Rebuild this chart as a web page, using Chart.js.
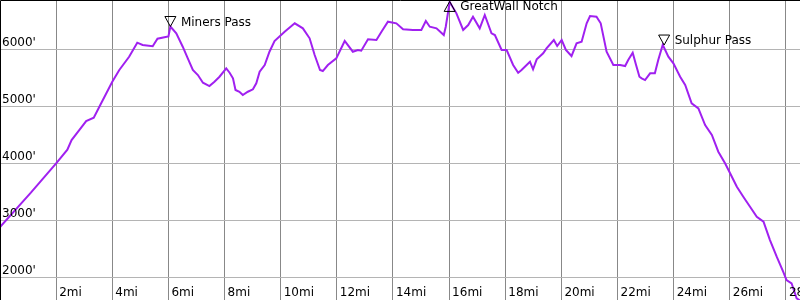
<!DOCTYPE html>
<html lang="en">
<head>
  <meta charset="UTF-8">
  <title>Elevation profile</title>
  <script src="https://cdn.jsdelivr.net/npm/chart.js"></script>
  <style>
    html, body { margin: 0; padding: 0; background: #fff; }
    #wrap { width: 800px; height: 300px; position: relative; }
  </style>
</head>
<body>
  <div id="wrap"><canvas id="profile"></canvas></div>
  <script>
    // distance along the trail (miles) and elevation (feet)
    const miles = [0, 1.1, 2.0, 2.4, 2.55, 2.83, 3.07, 3.34, 3.54, 4.0, 4.25, 4.6, 4.89, 5.08, 5.44, 5.61, 5.9, 6.0,
      6.07, 6.28, 6.51, 6.69, 6.87, 7.05, 7.23, 7.46, 7.64, 7.82, 8.06, 8.18, 8.3, 8.39, 8.53, 8.65, 8.83, 9.01,
      9.13, 9.25, 9.43, 9.6, 9.78, 10.14, 10.5, 10.79, 11.03, 11.21, 11.4, 11.5, 11.68, 11.98, 12.28, 12.57, 12.75,
      12.87, 13.11, 13.41, 13.59, 13.82, 14.12, 14.36, 14.71, 15.01, 15.17, 15.31, 15.55, 15.81, 15.88, 16.02,
      16.26, 16.5, 16.68, 16.85, 17.09, 17.27, 17.51, 17.63, 17.87, 18.05, 18.28, 18.46, 18.58, 18.88, 18.99,
      19.12, 19.35, 19.47, 19.73, 19.85, 20.01, 20.16, 20.36, 20.54, 20.72, 20.9, 21.02, 21.25, 21.4, 21.61,
      21.85, 22.09, 22.27, 22.38, 22.54, 22.66, 22.78, 22.86, 22.98, 23.16, 23.33, 23.45, 23.61, 23.81, 23.99,
      24.23, 24.41, 24.64, 24.88, 25.12, 25.36, 25.59, 25.83, 26.01, 26.25, 26.48, 26.72, 26.96, 27.2, 27.43,
      27.67, 27.9, 28.02, 28.2, 28.38, 28.52];
    const elevation = [2883, 3485, 4000, 4239, 4409, 4585, 4742, 4800, 4993, 5432, 5637, 5870, 6116, 6075, 6053, 6186, 6215, 6225,
      6400, 6281, 6046, 5842, 5637, 5549, 5414, 5356, 5432, 5519, 5667, 5590, 5491, 5286, 5256, 5198, 5256, 5298,
      5404, 5607, 5725, 5958, 6146, 6309, 6456, 6368, 6193, 5900, 5637, 5619, 5725, 5842, 6146, 5958, 5988,
      5976, 6175, 6163, 6309, 6484, 6456, 6351, 6339, 6339, 6496, 6396, 6368, 6251, 6396, 6830,
      6631, 6339, 6426, 6572, 6368, 6602, 6281, 6251, 5988, 5988, 5725, 5590, 5637, 5782, 5649,
      5825, 5930, 6017, 6163, 6058, 6163, 5988, 5882, 6105, 6133, 6456, 6584, 6572, 6456, 5958,
      5725, 5725, 5707, 5812, 5940, 5725, 5519, 5491, 5461, 5579, 5579, 5812, 6080, 5870, 5754,
      5519, 5374, 5053, 4965, 4672, 4497, 4204, 4000, 3825, 3590, 3415, 3239, 3064, 2976, 2655,
      2362, 2099, 1953, 1896, 1633, 1590];

    // named points along the route
    const wpNames = ['Miners Pass', 'GreatWall Notch', 'Sulphur Pass'];
    const wpMiles = [6.07, 16.02, 23.66];
    const wpElev = [6400, 6840, 6075];
    const wpUp = [false, true, false];

    const mileTicks = [2, 4, 6, 8, 10, 12, 14, 16, 18, 20, 22, 24, 26, 28];
    const feetTicks = [2000, 3000, 4000, 5000, 6000];

    const FONT = '12px "DejaVu Sans", sans-serif';

    // tick labels sit inside the plot, plus the waypoint triangles
    const overlay = {
      id: 'overlay',
      afterDraw(chart) {
        const { ctx, chartArea: a, scales } = chart;
        const x = scales.x, y = scales.y;
        ctx.save();
        ctx.font = FONT;
        ctx.fillStyle = '#000';
        ctx.textBaseline = 'alphabetic';
        ctx.textAlign = 'left';
        feetTicks.forEach(v => ctx.fillText(v + "'", a.left + 2, y.getPixelForValue(v) - 3));
        mileTicks.forEach(v => ctx.fillText(v + 'mi', x.getPixelForValue(v) + 3, a.bottom - 4));

        // top + left frame
        ctx.strokeStyle = '#000';
        ctx.lineWidth = 1;
        ctx.beginPath();
        ctx.moveTo(a.left + 0.5, a.bottom);
        ctx.lineTo(a.left + 0.5, a.top + 0.5);
        ctx.lineTo(a.right, a.top + 0.5);
        ctx.stroke();

        wpNames.forEach((name, i) => {
          const px = x.getPixelForValue(wpMiles[i]);
          const py = y.getPixelForValue(wpElev[i]);
          const h = 10, w = 5.5;
          ctx.beginPath();
          if (wpUp[i]) {
            ctx.moveTo(px, py);
            ctx.lineTo(px - w, py + h);
            ctx.lineTo(px + w, py + h);
          } else {
            ctx.moveTo(px, py);
            ctx.lineTo(px - w, py - h);
            ctx.lineTo(px + w, py - h);
          }
          ctx.closePath();
          ctx.stroke();
          const base = wpUp[i] ? py + h - 1 : py - 1;
          ctx.fillText(name, px + 10.5, base);
        });
        ctx.restore();
      }
    };

    new Chart(document.getElementById('profile'), {
      type: 'line',
      data: {
        datasets: [{
          data: miles.map((m, i) => ({ x: m, y: elevation[i] })),
          borderColor: '#a020f0',
          borderWidth: 2,
          pointRadius: 0,
          tension: 0,
          fill: false
        }]
      },
      options: {
        responsive: true,
        maintainAspectRatio: false,
        animation: false,
        layout: { padding: 0 },
        plugins: { legend: { display: false }, tooltip: { enabled: false } },
        scales: {
          x: {
            type: 'linear',
            min: 0,
            max: 28.5,
            afterBuildTicks: s => { s.ticks = mileTicks.map(v => ({ value: v })); },
            ticks: { display: false },
            grid: { color: '#888888', drawTicks: false },
            border: { display: false }
          },
          y: {
            min: 1603,
            max: 6865,
            afterBuildTicks: s => { s.ticks = feetTicks.map(v => ({ value: v })); },
            ticks: { display: false },
            grid: { color: '#b4b4b4', drawTicks: false },
            border: { display: false }
          }
        }
      },
      plugins: [overlay]
    });
  </script>
</body>
</html>
